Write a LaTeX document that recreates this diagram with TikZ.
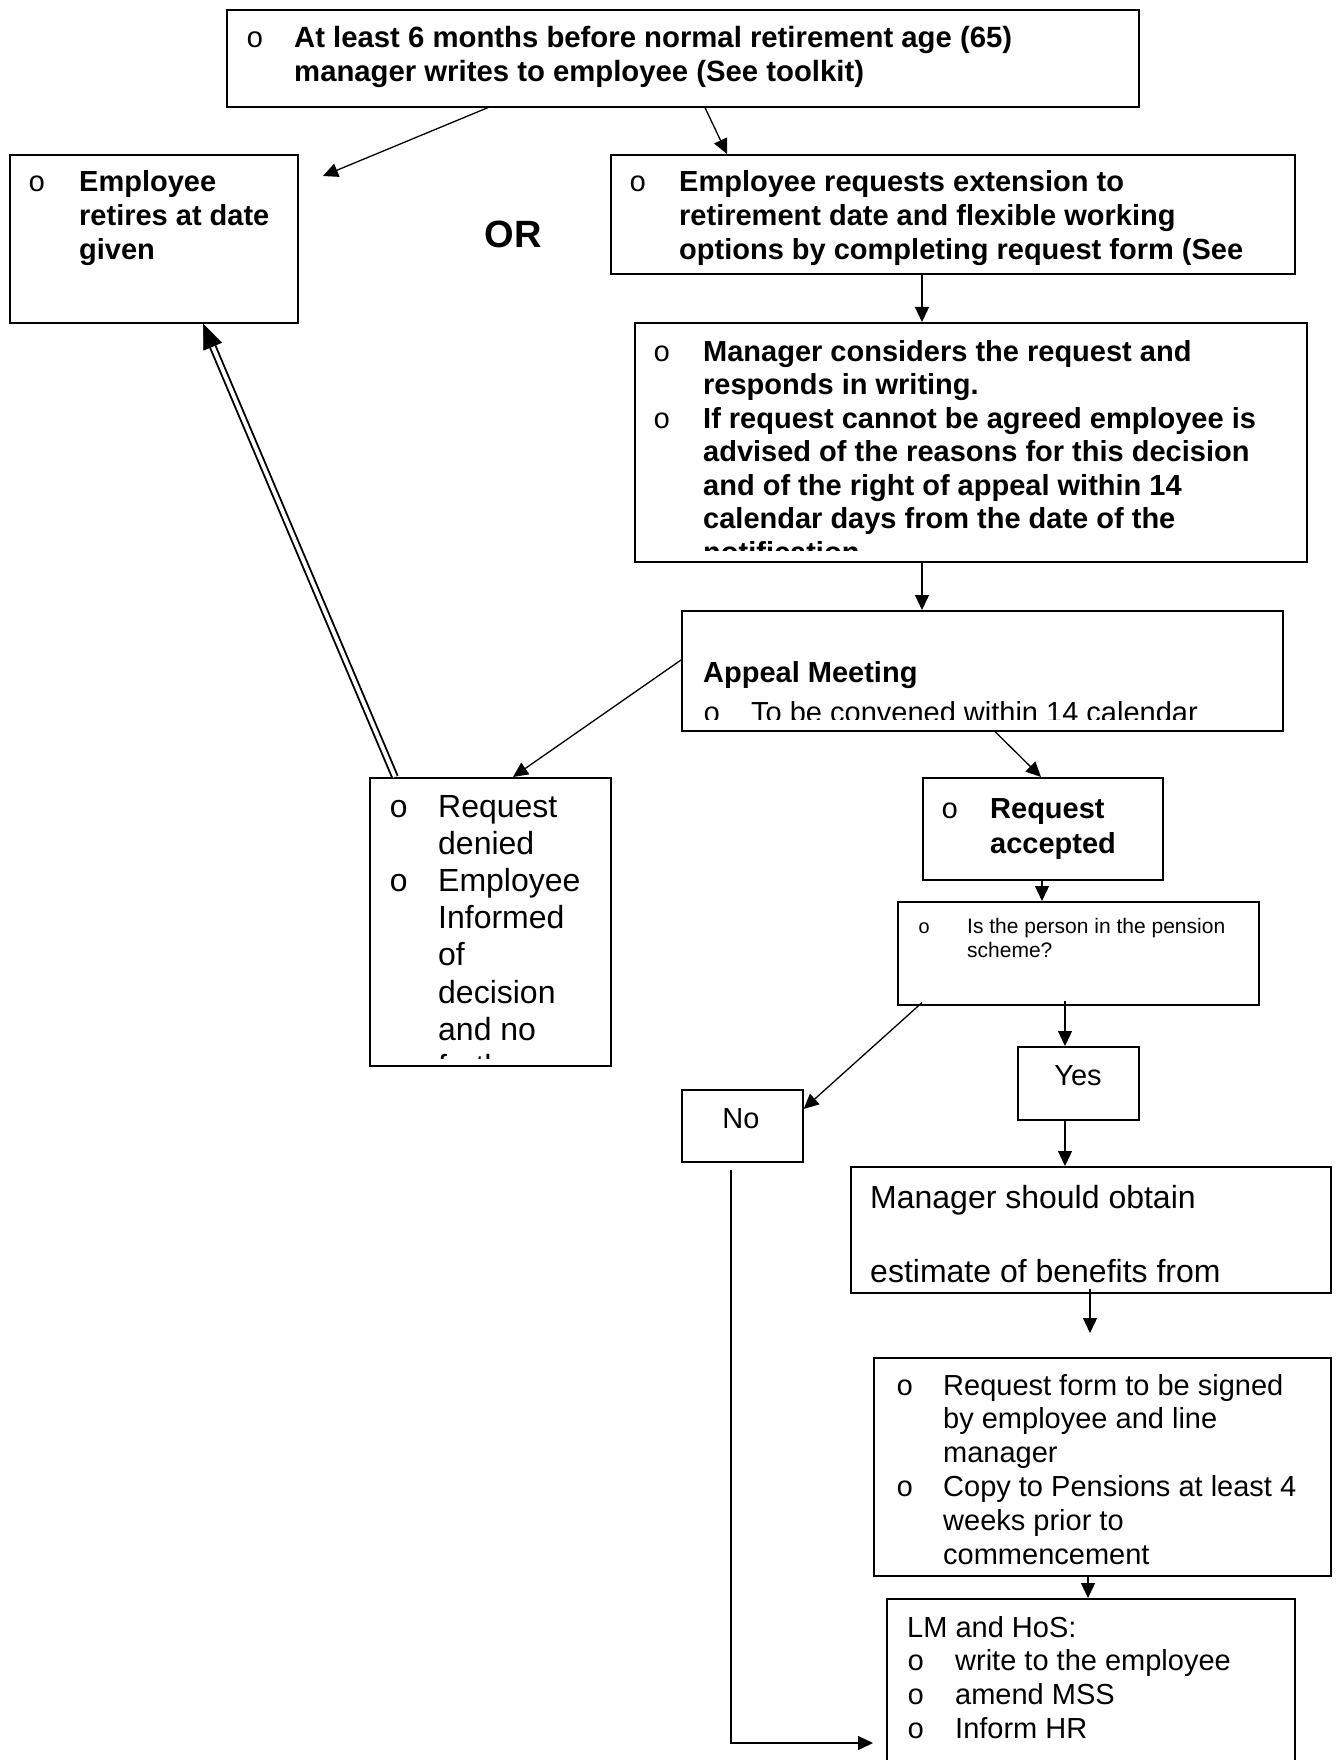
\documentclass[tikz,border=0pt]{standalone}
\usepackage{fontspec}
\setmainfont{Liberation Sans}
\newfontfamily\bulletfont{Liberation Mono}
\usetikzlibrary{arrows.meta}
\newcommand{\bul}{{\bulletfont\mdseries o}}
\newcommand{\sz}[2]{\fontsize{#1}{#2}\selectfont}
\newcommand{\blist}[2]{\begin{tabular}[t]{@{}p{#1pt}@{}l@{}}#2\end{tabular}}

\begin{document}
\begin{tikzpicture}[x=1pt,y=-1pt,
    stage/.style={draw, line width=1.6pt, anchor=north west, inner sep=0pt},
    words/.style={anchor=base west, inner sep=0pt},
    flow/.style={line width=1.3pt, -{Triangle[length=15pt,width=14pt]}}]

\clip (0,0) rectangle (1337,1760);

% boxes
\node (start) at (226,9) [stage, minimum width=912pt, minimum height=97pt] {};
\node (retire) at (9,154) [stage, minimum width=288pt, minimum height=168pt] {};
\node (ext) at (610,154) [stage, minimum width=684pt, minimum height=119pt] {};
\node (consider) at (634,322) [stage, minimum width=672pt, minimum height=239pt] {};
\node (appeal) at (681,610) [stage, minimum width=601pt, minimum height=120pt] {};
\node (denied) at (369,777) [stage, minimum width=241pt, minimum height=288pt] {};
\node (accepted) at (922,777) [stage, minimum width=240pt, minimum height=102pt] {};
\node (pension) at (897,901) [stage, minimum width=361pt, minimum height=103pt] {};
\node (yes) at (1017,1046) [stage, minimum width=121pt, minimum height=73pt] {};
\node (no) at (681,1089) [stage, minimum width=121pt, minimum height=72pt] {};
\node (obtain) at (850,1166) [stage, minimum width=480pt, minimum height=126pt] {};
\node (form) at (873,1357) [stage, minimum width=457pt, minimum height=218pt] {};
\node (lm) at (886,1598) [stage, minimum width=408pt, minimum height=200pt] {};

% texts
\node (startTxt) at (246,48) [words] {\sz{29.3}{34}\bfseries\blist{48}{\bul & At least 6 months before normal retirement age (65)\\
  & manager writes to employee (See toolkit)}};
\node (retireTxt) at (28,192) [words] {\sz{29}{33.7}\bfseries\blist{51}{\bul & Employee\\ & retires at date\\ & given}};
\node (orTxt) at (513,234) {\sz{38}{44}\bfseries OR};
\node (extTxt) at (629,192) [words] {\sz{29}{33.7}\bfseries\blist{50}{\bul & Employee requests extension to\\
  & retirement date and flexible working\\ & options by completing request form (See}};
\begin{scope}
  \clip (636,324) rectangle (1304,550);
  \node (considerTxt) at (653,361) [words] {\sz{29}{33.5}\bfseries\blist{50}{\bul & Manager considers the request and\\
    & responds in writing.\\ \bul & If request cannot be agreed employee is\\
    & advised of the reasons for this decision\\ & and of the right of appeal within 14\\
    & calendar days from the date of the\\ & notification}};
\end{scope}
\begin{scope}
  \clip (683,612) rectangle (1280,719);
  \node (appealTxt) at (703,682) [words] {\sz{29}{33.7}\blist{48}{\multicolumn{2}{@{}l@{}}{\bfseries Appeal Meeting}\\[7pt]
    \bul & To be convened within 14 calendar}};
\end{scope}
\begin{scope}
  \clip (371,779) rectangle (608,1058);
  \node (deniedTxt) at (389,817) [words] {\sz{32}{37.2}\blist{49}{\bul & Request\\ & denied\\ \bul & Employee\\
    & Informed\\ & of\\ & decision\\ & and no\\ & further}};
\end{scope}
\node (acceptedTxt) at (941,818) [words] {\sz{29}{35}\bfseries\blist{49}{\bul & Request\\ & accepted}};
\node (pensionTxt) at (918,933) [words] {\sz{21}{24.7}\blist{49}{{\bulletfont\fontsize{20}{20}\selectfont o} & Is the person in the pension\\
  & scheme?}};
\node (yesTxt) at (1078,1085) [anchor=base, inner sep=0pt] {\sz{29}{34}Yes};
\node (noTxt) at (741,1128) [anchor=base, inner sep=0pt] {\sz{29}{34}No};
\node (obtainTxt) at (870,1208) [words] {\sz{32}{37.2}\begin{tabular}[t]{@{}l@{}}Manager should obtain\\[37pt]
  estimate of benefits from\end{tabular}};
\begin{scope}
  \clip (875,1359) rectangle (1328,1567);
  \node (formTxt) at (896,1395) [words] {\sz{29}{33.8}\blist{47}{\bul & Request form to be signed\\
    & by employee and line\\ & manager\\ \bul & Copy to Pensions at least 4\\
    & weeks prior to\\ & commencement}};
\end{scope}
\node (lmTxt) at (907,1637) [words] {\sz{29}{33.7}\blist{48}{\multicolumn{2}{@{}l@{}}{LM and HoS:}\\
  \bul & write to the employee\\ \bul & amend MSS\\ \bul & Inform HR}};

% connectors
\coordinate (retireTip) at (323,176);
\coordinate (formTip) at (1090,1333);
\draw[flow] ([xshift=262pt]start.south west) -- (retireTip);
\draw[flow] ([xshift=479pt]start.south west) -- ([xshift=117pt]ext.north west);
\draw[flow] ([xshift=312pt]ext.south west) -- ([xshift=288pt]consider.north west);
\draw[flow] ([xshift=288pt]consider.south west) -- ([xshift=241pt]appeal.north west);
\draw[flow] ([yshift=-50pt]appeal.north west) -- ([xshift=144pt]denied.north west);
\draw[flow] ([xshift=314pt]appeal.south west) -- ([xshift=119pt]accepted.north west);
\draw[flow] ([xshift=120pt]accepted.south west) -- ([xshift=145pt]pension.north west);
\draw[flow] ([xshift=25pt,yshift=3pt]pension.south west) -- ([yshift=-20pt]no.north east);
\draw[flow] ([xshift=168pt,yshift=5pt]pension.south west) -- ([xshift=48pt]yes.north west);
\draw[flow] ([xshift=48pt]yes.south west) -- ([xshift=215pt]obtain.north west);
\draw[flow] ([xshift=240pt,yshift=5pt]obtain.south west) -- (formTip);
\draw[flow] ([xshift=215pt]form.south west) -- ([xshift=202pt]lm.north west);
\draw[flow] ([xshift=50pt,yshift=-7pt]no.south west) |- ([xshift=-13pt,yshift=-145pt]lm.north west);

% double return line
\path ([xshift=26pt]denied.north west) -- ([xshift=194pt]retire.south west)
  coordinate[pos=0.955] (backEnd) coordinate[pos=0.948] (backTip);
\draw[double, double distance=3.8pt, line width=1.9pt] ([xshift=26pt]denied.north west) -- (backEnd);
\draw[line width=0.5pt, -{Triangle[length=25pt,width=20pt]}] (backTip) -- ([xshift=194pt]retire.south west);

\end{tikzpicture}
\end{document}
